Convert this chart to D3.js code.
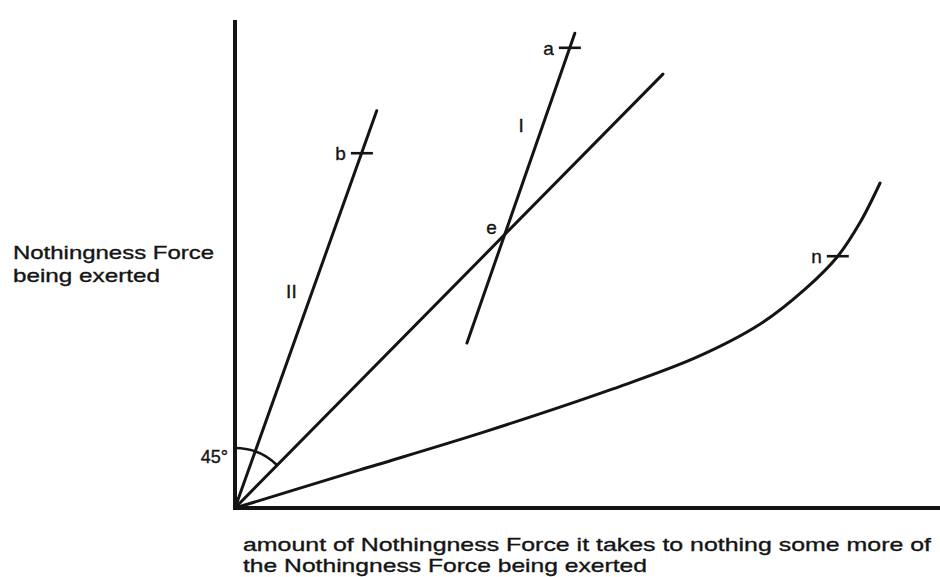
<!DOCTYPE html>
<html><head><meta charset="utf-8">
<script src="https://cdn.jsdelivr.net/npm/d3@7"></script>
<style>
html,body{margin:0;padding:0;background:#fff;}
svg{display:block;}
text{font-family:"Liberation Sans",Arial,Helvetica,sans-serif;fill:#141414;stroke:#141414;stroke-width:0.35;}
</style></head>
<body>
<svg id="chart" width="940" height="577"></svg>
<script>
// ---- data (abstract units, 0..100 on both axes) ----
const lineE = [[0,0],[60.7,88.9]];              // 45° line through e
const lineII = [[0,0],[20.1,81.4]];             // steep line II
const lineI = [[32.9,33.8],[48.2,97.3]];        // line I through e
const curveN = [[0,0],[17.7,7.8],[35.6,15.7],[53.6,24.4],[65.5,30.9],[74.5,37.7],[80.9,44.9],[85.5,51.6],[88.7,58.6],[91.5,66.6]];
const tickPoints = [
  {name:"b", x:18.0, y:72.7},
  {name:"a", x:47.5, y:94.3},
  {name:"n", x:85.5, y:51.6}
];
const pointE = {name:"e", x:38.0, y:56.4};
const lineLabels = [{name:"II", x:8.0, y:43.0},{name:"I", x:40.6, y:77.0}];
const angleLabel = "45°";
const yTitle = ["Nothingness Force","being exerted"];
const xTitle = ["amount of Nothingness Force it takes to nothing some more of","the Nothingness Force being exerted"];

const svg = d3.select("#chart");
const ink = "#141414";
const x = d3.scaleLinear().domain([0,100]).range([235,940]);
const y = d3.scaleLinear().domain([0,100]).range([508,20]);
const line = d3.line().x(d=>x(d[0])).y(d=>y(d[1]));

// axes
svg.append("line").attr("x1",x(0)).attr("y1",y(0)+2).attr("x2",x(0)).attr("y2",y(100))
  .attr("stroke",ink).attr("stroke-width",4);
svg.append("line").attr("x1",x(0)-2).attr("y1",y(0)).attr("x2",x(100)).attr("y2",y(0))
  .attr("stroke",ink).attr("stroke-width",4);

// lines
[lineE,lineII,lineI].forEach(l=>{
  svg.append("path").attr("d",line(l)).attr("fill","none").attr("stroke",ink).attr("stroke-width",3).attr("stroke-linecap","round");
});
svg.append("path").attr("d",d3.line().x(d=>x(d[0])).y(d=>y(d[1])).curve(d3.curveCatmullRom.alpha(0.5))(curveN))
  .attr("fill","none").attr("stroke",ink).attr("stroke-width",3).attr("stroke-linecap","round");

// 45 degree arc
const ang = Math.atan2(x(lineE[1][0])-x(0), y(0)-y(lineE[1][1]));
svg.append("path")
  .attr("transform",`translate(${x(0)},${y(0)})`)
  .attr("d",d3.arc()({innerRadius:60,outerRadius:60,startAngle:0,endAngle:ang}))
  .attr("fill","none").attr("stroke",ink).attr("stroke-width",2.6);
svg.append("text").attr("x",x(0)-7).attr("y",y(0)-45).attr("text-anchor","end")
  .attr("font-size",18).text(angleLabel);

// tick marks and point labels
tickPoints.forEach(p=>{
  svg.append("line").attr("x1",x(p.x)-11).attr("x2",x(p.x)+11).attr("y1",y(p.y)).attr("y2",y(p.y))
    .attr("stroke",ink).attr("stroke-width",2.6);
  svg.append("text").attr("x",x(p.x)-16).attr("y",y(p.y)+7).attr("text-anchor","end")
    .attr("font-size",19).text(p.name);
});
svg.append("text").attr("x",x(pointE.x)-6).attr("y",y(pointE.y)+1).attr("text-anchor","end")
  .attr("font-size",19).text(pointE.name);
lineLabels.forEach(p=>{
  svg.append("text").attr("x",x(p.x)).attr("y",y(p.y)).attr("text-anchor","middle")
    .attr("font-size",19).attr("font-family","Liberation Serif, serif").text(p.name);
});

// axis titles
const yT = svg.append("text").attr("font-size",19);
yT.append("tspan").attr("x",13).attr("y",259).attr("textLength",201).attr("lengthAdjust","spacingAndGlyphs").text(yTitle[0]);
yT.append("tspan").attr("x",13).attr("y",282).attr("textLength",147).attr("lengthAdjust","spacingAndGlyphs").text(yTitle[1]);
const xT = svg.append("text").attr("font-size",19);
xT.append("tspan").attr("x",243).attr("y",551).attr("textLength",688).attr("lengthAdjust","spacingAndGlyphs").text(xTitle[0]);
xT.append("tspan").attr("x",243).attr("y",572).attr("textLength",404).attr("lengthAdjust","spacingAndGlyphs").text(xTitle[1]);
</script>
</body></html>
